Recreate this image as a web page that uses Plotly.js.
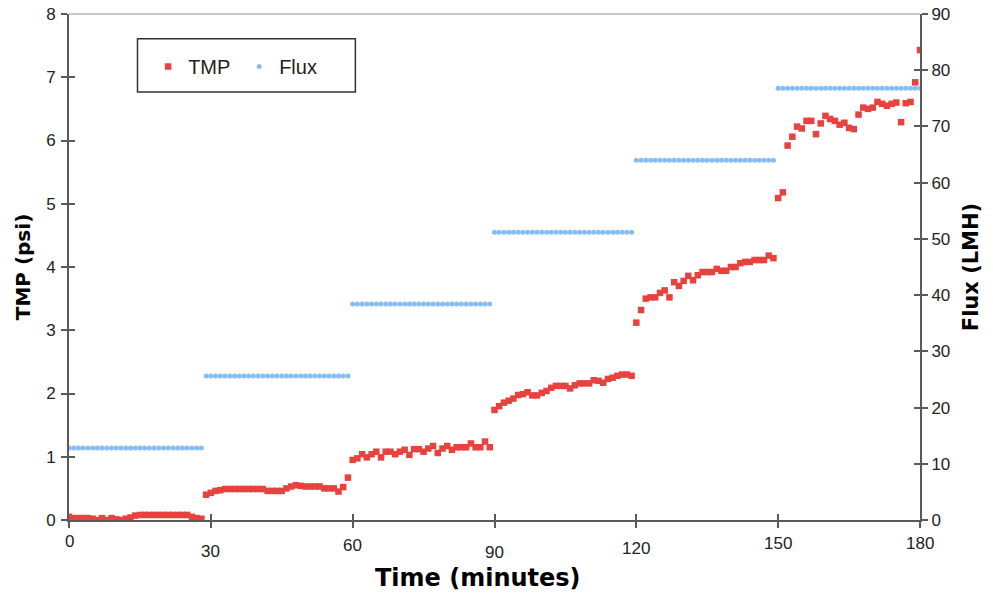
<!DOCTYPE html>
<html>
<head>
<meta charset="utf-8">
<script src="https://cdn.plot.ly/plotly-3.0.1.min.js"></script>
<style>
  html, body { margin: 0; padding: 0; background: #ffffff; }
  #chart { width: 993px; height: 594px; }
</style>
</head>
<body>
<div id="chart"></div>
<script>
// ---- Data ----
const timeMinutes = [
  0,1,2,3,4,5,6,7,8,9,10,11,12,13,14,15,16,17,18,19,20,21,22,23,24,25,26,27,28,29,
  30,31,32,33,34,35,36,37,38,39,40,41,42,43,44,45,46,47,48,49,50,51,52,53,54,55,56,57,58,59,
  60,61,62,63,64,65,66,67,68,69,70,71,72,73,74,75,76,77,78,79,80,81,82,83,84,85,86,87,88,89,
  90,91,92,93,94,95,96,97,98,99,100,101,102,103,104,105,106,107,108,109,110,111,112,113,114,115,116,117,118,119,
  120,121,122,123,124,125,126,127,128,129,130,131,132,133,134,135,136,137,138,139,140,141,142,143,144,145,146,147,148,149,
  150,151,152,153,154,155,156,157,158,159,160,161,162,163,164,165,166,167,168,169,170,171,172,173,174,175,176,177,178,179,180
];

const tmpPsi = [
  // 0-28
  0.05,0.03,0.03,0.03,0.03,0.02,0.00,0.03,0.00,0.03,0.01,0.00,0.02,0.04,0.07,0.08,0.08,0.08,0.08,0.08,0.08,0.08,0.08,0.08,0.08,0.08,0.05,0.03,0.02,
  // 29-59
  0.40,0.43,0.46,0.47,0.49,0.49,0.49,0.49,0.49,0.49,0.49,0.49,0.49,0.46,0.46,0.46,0.46,0.50,0.53,0.55,0.54,0.53,0.53,0.53,0.53,0.50,0.50,0.50,0.45,0.52,0.67,
  // 60-89
  0.95,0.975,1.04,0.99,1.04,1.08,0.99,1.08,1.08,1.04,1.08,1.11,1.03,1.12,1.12,1.08,1.13,1.17,1.06,1.13,1.17,1.11,1.15,1.15,1.15,1.21,1.15,1.15,1.24,1.15,
  // 90-119
  1.74,1.80,1.855,1.886,1.92,1.976,1.99,2.02,1.97,1.97,2.01,2.04,2.09,2.12,2.12,2.12,2.08,2.13,2.16,2.16,2.16,2.21,2.20,2.17,2.23,2.25,2.28,2.30,2.30,2.28,
  // 120-149
  3.12,3.32,3.50,3.52,3.52,3.59,3.63,3.52,3.76,3.70,3.78,3.86,3.79,3.87,3.92,3.92,3.92,3.97,3.94,3.94,4.00,4.00,4.06,4.08,4.08,4.11,4.11,4.11,4.18,4.14,
  // 150-180
  5.09,5.18,5.92,6.06,6.22,6.19,6.31,6.31,6.10,6.27,6.39,6.34,6.31,6.25,6.28,6.20,6.18,6.41,6.52,6.50,6.52,6.61,6.58,6.55,6.58,6.60,6.29,6.59,6.61,6.92,7.43
];

const fluxLMH = [
  // 0-28
  12.8,12.8,12.8,12.8,12.8,12.8,12.8,12.8,12.8,12.8,12.8,12.8,12.8,12.8,12.8,12.8,12.8,12.8,12.8,12.8,12.8,12.8,12.8,12.8,12.8,12.8,12.8,12.8,12.8,
  // 29-59
  25.6,25.6,25.6,25.6,25.6,25.6,25.6,25.6,25.6,25.6,25.6,25.6,25.6,25.6,25.6,25.6,25.6,25.6,25.6,25.6,25.6,25.6,25.6,25.6,25.6,25.6,25.6,25.6,25.6,25.6,25.6,
  // 60-89
  38.4,38.4,38.4,38.4,38.4,38.4,38.4,38.4,38.4,38.4,38.4,38.4,38.4,38.4,38.4,38.4,38.4,38.4,38.4,38.4,38.4,38.4,38.4,38.4,38.4,38.4,38.4,38.4,38.4,38.4,
  // 90-119
  51.2,51.2,51.2,51.2,51.2,51.2,51.2,51.2,51.2,51.2,51.2,51.2,51.2,51.2,51.2,51.2,51.2,51.2,51.2,51.2,51.2,51.2,51.2,51.2,51.2,51.2,51.2,51.2,51.2,51.2,
  // 120-149
  64,64,64,64,64,64,64,64,64,64,64,64,64,64,64,64,64,64,64,64,64,64,64,64,64,64,64,64,64,64,
  // 150-180
  76.8,76.8,76.8,76.8,76.8,76.8,76.8,76.8,76.8,76.8,76.8,76.8,76.8,76.8,76.8,76.8,76.8,76.8,76.8,76.8,76.8,76.8,76.8,76.8,76.8,76.8,76.8,76.8,76.8,76.8,76.8
];

const seriesNames = ["TMP", "Flux"];
const xTickValues = [0, 30, 60, 90, 120, 150, 180];
const xTickLabels = ["0", "30", "60", "90", "120", "150", "180"];
const leftTickValues = [0, 1, 2, 3, 4, 5, 6, 7, 8];
const rightTickValues = [0, 10, 20, 30, 40, 50, 60, 70, 80, 90];
const xTitle = "Time (minutes)";
const leftTitle = "TMP (psi)";
const rightTitle = "Flux (LMH)";

// ---- Styling ----
const xLabelDrop = [21, 31, 25, 32, 28, 23, 23]; // staggered label offsets (px below axis)
const tickFont = { family: "Liberation Sans, Arial, sans-serif", size: 17, color: "#222222" };
const titleFont = { family: "DejaVu Sans, Verdana, sans-serif", size: 20, color: "#000000", weight: "bold" };
const axisColor = "#5a5a5a";

const traces = [
  {
    x: timeMinutes, y: tmpPsi, name: seriesNames[0], type: "scatter", mode: "markers",
    xaxis: "x", yaxis: "y",
    marker: { symbol: "square", size: 6.5, color: "#e8423e" }
  },
  {
    x: timeMinutes, y: fluxLMH, name: seriesNames[1], type: "scatter", mode: "markers",
    xaxis: "x", yaxis: "y2",
    marker: { symbol: "circle", size: 5, color: "#86bdf4" }
  },
  // empty helper traces so the inner tick-mark axes get drawn (ticks crossing the axis lines)
  { x: [], y: [], type: "scatter", mode: "markers", xaxis: "x2", yaxis: "y3", showlegend: false, hoverinfo: "skip" },
  { x: [], y: [], type: "scatter", mode: "markers", xaxis: "x2", yaxis: "y4", showlegend: false, hoverinfo: "skip" }
];

const annotations = xTickValues.map((v, i) => ({
  x: v, xref: "x", y: 0, yref: "paper",
  text: xTickLabels[i], showarrow: false,
  xanchor: "center", yanchor: "middle",
  yshift: -xLabelDrop[i],
  font: tickFont
}));

const insideTicks = { ticks: "inside", ticklen: 6, tickwidth: 2, tickcolor: axisColor,
  showline: false, showgrid: false, zeroline: false, showticklabels: false, tickmode: "array" };

const layout = {
  width: 993, height: 594,
  margin: { l: 69, r: 73, t: 14, b: 74 },
  paper_bgcolor: "#ffffff", plot_bgcolor: "#ffffff",
  showlegend: true,
  legend: {
    orientation: "h", x: 0.093, y: 0.935, xanchor: "left", yanchor: "top",
    bgcolor: "rgba(0,0,0,0)", borderwidth: 0,
    font: { family: "Liberation Sans, Arial, sans-serif", size: 20, color: "#222222" },
    itemwidth: 30, entrywidth: 46
  },
  xaxis: {
    range: [0, 180], showgrid: false, zeroline: false,
    showline: true, linecolor: axisColor, linewidth: 2,
    tickmode: "array", tickvals: xTickValues, showticklabels: false,
    ticks: "outside", ticklen: 6, tickwidth: 2, tickcolor: axisColor,
    title: { text: xTitle + "&nbsp;&nbsp;&nbsp;&nbsp;", font: Object.assign({}, titleFont, { size: 24 }), standoff: 42 }
  },
  xaxis2: Object.assign({ range: [0, 180], overlaying: "x", anchor: "y3", side: "bottom", tickvals: xTickValues }, insideTicks),
  yaxis: {
    range: [0, 8], showgrid: false, zeroline: false,
    showline: true, linecolor: axisColor, linewidth: 2,
    tickmode: "array", tickvals: leftTickValues,
    ticks: "outside", ticklen: 6, tickwidth: 2, tickcolor: axisColor,
    ticklabelstandoff: 2,
    tickfont: tickFont,
    title: { text: leftTitle, font: titleFont, standoff: 10 }
  },
  yaxis2: {
    range: [0, 90], overlaying: "y", side: "right", showgrid: false, zeroline: false,
    showline: true, linecolor: axisColor, linewidth: 2,
    tickmode: "array", tickvals: rightTickValues,
    ticks: "outside", ticklen: 6, tickwidth: 2, tickcolor: axisColor,
    ticklabelstandoff: 0,
    tickfont: tickFont,
    title: { text: rightTitle, font: Object.assign({}, titleFont, { size: 21 }), standoff: 14 }
  },
  yaxis3: Object.assign({ range: [0, 8], overlaying: "y", anchor: "x2", side: "left", tickvals: leftTickValues }, insideTicks),
  yaxis4: Object.assign({ range: [0, 90], overlaying: "y", anchor: "x2", side: "right", tickvals: rightTickValues }, insideTicks),
  shapes: [
    { type: "line", xref: "paper", yref: "paper", x0: 0, x1: 1, y0: 1, y1: 1,
      line: { color: "#c8c8c8", width: 2 } },
    { type: "rect", xref: "paper", yref: "paper", x0: 0.0805, x1: 0.3365, y0: 0.846, y1: 0.951,
      line: { color: "#333333", width: 1.5 }, fillcolor: "rgba(0,0,0,0)" }
  ],
  annotations: annotations
};

Plotly.newPlot("chart", traces, layout, { displayModeBar: false, staticPlot: true });
</script>
</body>
</html>
